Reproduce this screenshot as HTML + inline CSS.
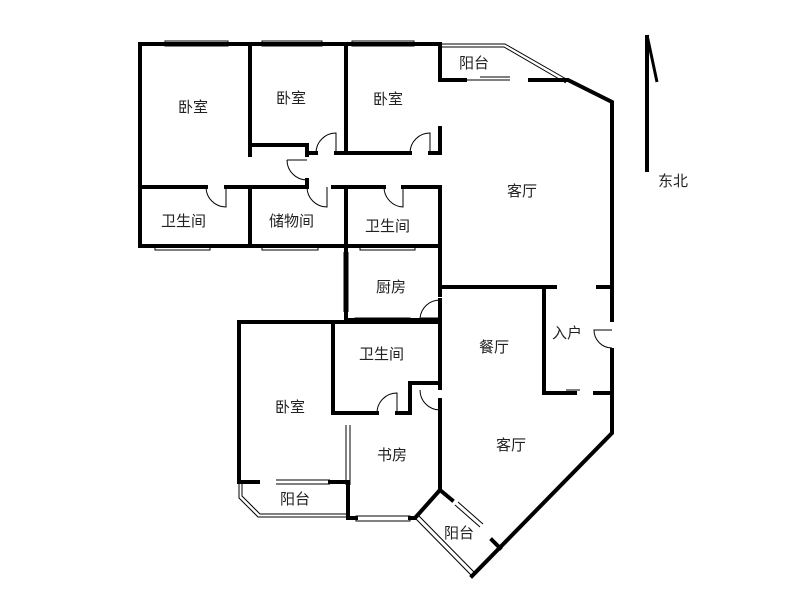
<!DOCTYPE html>
<html><head><meta charset="utf-8"><style>
body{margin:0;background:#fff}
svg{display:block}
text{font-family:"Liberation Sans","Noto Sans CJK SC",sans-serif;font-size:15px;fill:#222}
</style></head><body>
<svg width="800" height="600" viewBox="0 0 800 600">
<g stroke="#000" stroke-width="4" fill="none" stroke-linecap="square">
<path d="M140 44H440M140 44V246H440M250 44V155M346 44V153M440 44V80"/>
<path d="M250 145H307V155M307 153H316M336 153H410M430 153H440V128"/>
<path d="M140 187H206M226 187H307V180M333 187H384M403 187H440V246"/>
<path d="M250 187V246M346 187V246"/>
<path d="M346 246V320M440 246V295M346 320H440V300"/>
<path d="M440 80H465M530 80H568L612 102V287M440 287H555M598 287H612V320M612 350V433L472 576"/>
<path d="M544 287V393H575M595 393H612V350"/>
<path d="M239 322H440V388M239 322V482H258M330 482H348V518H356M410 518H415L440 490V410"/>
<path d="M333 322V413H377M397 413H410V383H440M440 400V410"/>
<path d="M440 490L452 500M492 540L500 548"/>
</g>
<g stroke="#000" stroke-width="1" fill="none">
<path d="M165 41H228V46H165ZM262 41H322V46H262ZM352 41H414V46H352Z"/>
<path d="M155 245H210V250H155ZM262 245H318V250H262ZM360 245H415V250H360Z"/>
<path d="M355 318H410V323H355Z"/>
<path d="M356 516H410V521H356Z"/>
<path d="M344 252V312M348 252V312"/>
<path d="M346 425V485M350 425V485"/>
<path d="M276 480H330M276 484H330"/>
<path d="M465 80H510M480 77H510"/>
<path d="M560 393H575M566 390H580"/>
<path d="M455 505L480 527M458 502L483 524"/>
<path d="M440 44H505L568 80M440 47H504L566 83"/>
<path d="M239 482V498L258 517H348M242 482V496L260 514H348"/>
<path d="M415 518L472 576M418 515L475 573"/>
<path d="M206 187A20 20 0 0 0 226 207V187M316 153A20 20 0 0 1 336 133V153M410 153A20 20 0 0 1 430 133V153"/>
<path d="M287 160H307M287 160A20 20 0 0 0 307 180M307 187A20 20 0 0 0 327 207V187M384 187A20 20 0 0 0 403 207V187"/>
<path d="M440 300A20 20 0 0 0 420 318H440M612 348A18 18 0 0 1 594 330H612"/>
<path d="M377 413A20 20 0 0 1 397 393V413M420 390A20 20 0 0 0 440 410"/>
</g>
<path d="M647 35V172" stroke="#000" stroke-width="4"/>
<path d="M647 35L657 82" stroke="#000" stroke-width="3"/>
<text x="178" y="112">卧室</text>
<text x="276" y="103">卧室</text>
<text x="373" y="104">卧室</text>
<text x="161" y="226">卫生间</text>
<text x="269" y="226">储物间</text>
<text x="365" y="231">卫生间</text>
<text x="459" y="68">阳台</text>
<text x="507" y="196">客厅</text>
<text x="376" y="292">厨房</text>
<text x="479" y="352">餐厅</text>
<text x="552" y="338">入户</text>
<text x="359" y="359">卫生间</text>
<text x="275" y="412">卧室</text>
<text x="377" y="460">书房</text>
<text x="496" y="450">客厅</text>
<text x="280" y="504">阳台</text>
<text x="444" y="538">阳台</text>
<text x="658" y="186">东北</text>
</svg>
</body></html>
